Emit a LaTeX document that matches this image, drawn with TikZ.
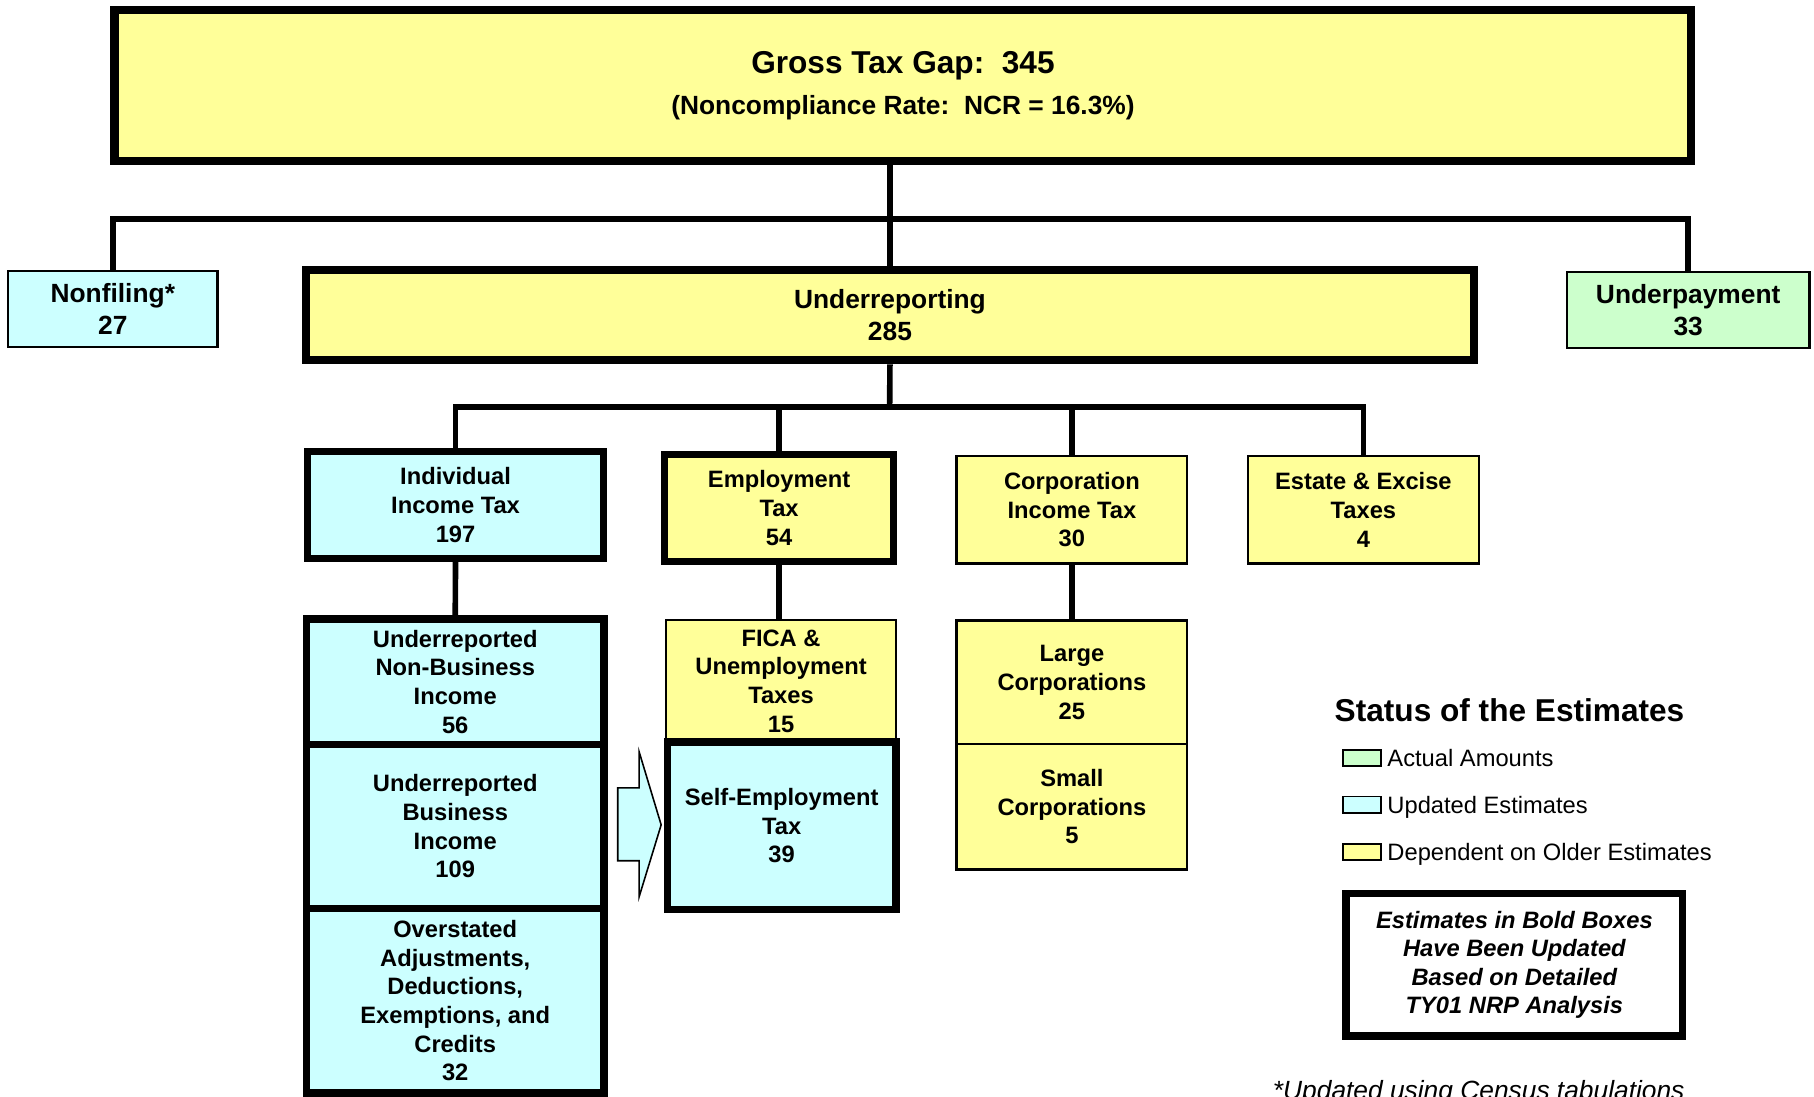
\documentclass[tikz,border=0pt]{standalone}
\usepackage{fontspec}
\setmainfont{Liberation Sans}
\usepackage{xcolor}
\usepackage{tikz}

\definecolor{yel}{HTML}{FFFF99}
\definecolor{cyn}{HTML}{CCFFFF}
\definecolor{grn}{HTML}{CCFFCC}

\begin{document}
\begin{tikzpicture}[x = 0.6587pt, y = -0.6587pt,
		box/.style = {draw, align = center, inner sep = 0, font = \bfseries\fontsize{15}{18.4}\selectfont},
		sub/.style = {box, font = \bfseries\fontsize{13.5}{16.3}\selectfont},
		wh/.style 2 args = {minimum width = #1*0.6587pt, minimum height = #2*0.6587pt},
		thin/.style = {line width = 1.3pt},
		bold/.style = {line width = 4.3pt},
		link/.style = {line width = 3.2pt}]
		\useasboundingbox (0,0) rectangle (1568,948);
		% top level
		\node[box, line width = 4.6pt, fill = yel, wh = {1363}{131}, font = \bfseries\fontsize{18}{23}\selectfont] (gross) at (780.5,74)
			{Gross Tax Gap:\ \ 345\\{\fontsize{15}{23}\selectfont (Noncompliance Rate:\ \ NCR = 16.3\%)}};
		\node[box, thin, fill = cyn, wh = {181}{65.6}] (nonfil) at (97.5,267.2) {Nonfiling*\\27};
		\node[box, line width = 4.6pt, fill = yel, wh = {1009.5}{78.2}] (underrep) at (769.25,272.3) {Underreporting\\285};
		\node[box, thin, fill = grn, wh = {209.5}{65.8}] (underpay) at (1459.25,267.9) {Underpayment\\33};
		% second level
		\node[sub, bold, fill = cyn, wh = {256.1}{92.5}] (indiv) at (393.75,436.45) {Individual\\Income Tax\\197};
		\node[sub, bold, fill = yel, wh = {198.1}{92.2}] (employ) at (673.45,439.1) {Employment\\Tax\\54};
		\node[sub, thin, fill = yel, wh = {199.5}{92.8}] (corp) at (926.55,440.7) {Corporation\\Income Tax\\30};
		\node[sub, thin, fill = yel, wh = {199.6}{92.8}] (estate) at (1178.5,440.7) {Estate \& Excise\\Taxes\\4};
		% third level
		\node[sub, bold, fill = cyn, wh = {257}{108.3}] (nonbus) at (393.5,589.35) {Underreported\\Non-Business\\Income\\56};
		\node[sub, bold, fill = cyn, wh = {257}{141.6}] (bus) at (393.5,714.3) {Underreported\\Business\\Income\\109};
		\node[sub, bold, fill = cyn, wh = {257}{159.7}] (overst) at (393.5,864.95) {Overstated\\Adjustments,\\Deductions,\\Exemptions, and\\Credits\\32};
		\node[sub, thin, fill = yel, wh = {199.2}{105.5}] (fica) at (675.1,588.75) {FICA \&\\Unemployment\\Taxes\\15};
		\node[sub, bold, fill = cyn, wh = {197.3}{144.8}] (selfemp) at (675.65,713.9) {Self-Employment\\Tax\\39};
		\node[sub, thin, fill = yel, wh = {199.5}{107}] (large) at (926.55,589.8) {Large\\Corporations\\25};
		\node[sub, thin, fill = yel, wh = {199.5}{108.3}] (small) at (926.55,697.45) {Small\\Corporations\\5};
		% connectors
		\coordinate (bar1) at (769,189.2);
		\coordinate (bar2) at (769,352);
		\draw[link] (underrep.north) -- (underrep.north |- gross.south);
		\draw[link] (nonfil.north) |- (bar1) -| (underpay.north);
		\draw[link] (underrep.south) -- (bar2);
		\draw[link] (indiv.north) |- (bar2) -| (estate.north);
		\draw[link] (employ.north) -- (employ.north |- bar2);
		\draw[link] (corp.north) -- (corp.north |- bar2);
		\draw[link] (indiv.south) -- (nonbus.north);
		\draw[link] (employ.south) -- (employ.south |- fica.north);
		\draw[link] (corp.south) -- (large.north);
		% block arrow
		\draw[line width = 0.9pt, fill = cyn] (534,681) -- (552.5,681) -- (552.5,650) -- (571.5,713)
			-- (552.5,775) -- (552.5,744) -- (534,744) -- cycle;
		% legend
		\node[anchor = base west, inner sep = 0, font = \bfseries\fontsize{18}{22}\selectfont] (legend) at (1153.4,623.8) {Status of the Estimates};
		\foreach \c/\y/\t [count = \i] in {grn/655.4/Actual Amounts, cyn/695.5/Updated Estimates, yel/736.7/Dependent on Older Estimates}{
			\node[draw, line width = 1.1pt, inner sep = 0, fill = \c, wh = {32.7}{14}] (sw\i) at (1177.05,\y) {};
			\node[anchor = base west, inner sep = 0, font = \fontsize{13.5}{16}\selectfont] (lab\i) at (1199,\y+7.3) {\t};
			}
		\node[sub, bold, wh = {290.8}{123}, font = \bfseries\itshape\fontsize{13.5}{16.1}\selectfont] (note) at (1309,834)
			{Estimates in Bold Boxes\\Have Been Updated\\Based on Detailed\\TY01 NRP Analysis};
		\node[anchor = base west, inner sep = 0, font = \itshape\fontsize{15}{18}\selectfont] (foot) at (1100,950) {*Updated using Census tabulations};
	\end{tikzpicture}
\end{document}
